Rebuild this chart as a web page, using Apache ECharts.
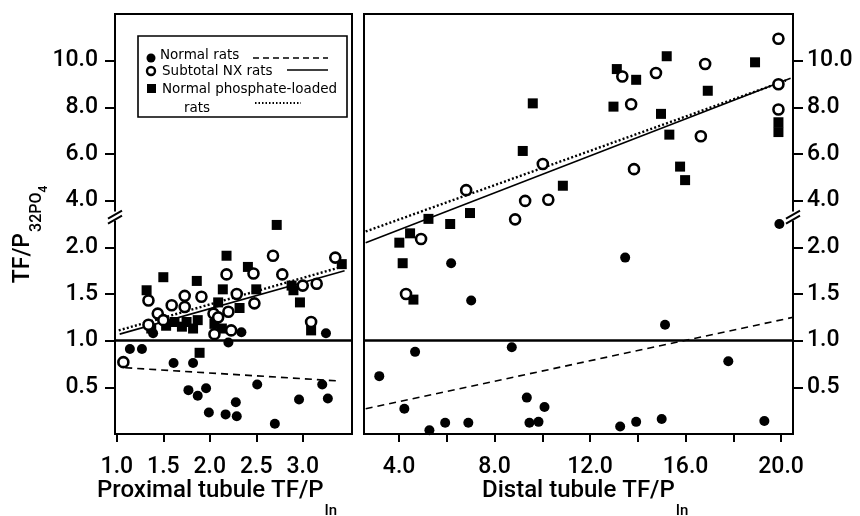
<!DOCTYPE html>
<html><head><meta charset="utf-8">
<script src="https://cdn.jsdelivr.net/npm/echarts@6/dist/echarts.min.js"></script>
<style>html,body{margin:0;padding:0;background:#fff}#c{width:860px;height:516px}</style>
</head><body><div id="c"></div>
<script>
const FONT = 'Roboto';
const WEIGHT = 500;
const LEG_FONT = 'DejaVu Sans';

// ---- Left panel: Proximal tubule TF/P_In ----
const proxNormal = [[1.14,0.91],[1.27,0.91],[1.39,1.08],[1.61,0.76],[1.82,0.76],[1.77,0.47],[1.87,0.41],[1.96,0.49],[1.99,0.23],[2.17,0.21],[2.28,0.34],[2.29,0.19],[2.20,0.98],[2.34,1.09],[2.51,0.53],[2.70,0.11],[2.96,0.37],[3.21,0.53],[3.25,1.08],[3.27,0.38]];
const proxNX = [[1.07,0.77],[1.34,1.43],[1.34,1.17],[1.44,1.29],[1.50,1.22],[1.59,1.38],[1.73,1.48],[1.73,1.36],[1.91,1.47],[2.04,1.29],[2.05,1.07],[2.09,1.25],[2.18,1.71],[2.20,1.31],[2.23,1.11],[2.29,1.50],[2.47,1.72],[2.48,1.40],[2.68,1.91],[2.78,1.71],[3.00,1.59],[3.09,1.20],[3.15,1.61],[3.35,1.89]];
const proxPhos = [[1.32,1.54],[1.37,1.13],[1.50,1.68],[1.53,1.16],[1.62,1.20],[1.70,1.15],[1.75,1.20],[1.82,1.13],[1.86,1.64],[1.87,1.22],[1.89,0.87],[2.05,1.18],[2.09,1.41],[2.13,1.13],[2.14,1.55],[2.18,1.91],[2.32,1.35],[2.41,1.79],[2.50,1.55],[2.72,2.24],[2.88,1.59],[2.90,1.54],[2.97,1.41],[3.09,1.11],[3.42,1.82]];
const proxNormalFit = [[1.09,0.71],[3.36,0.57]];
const proxNXFit = [[1.03,1.07],[3.45,1.75]];
const proxPhosFit = [[1.02,1.11],[3.38,1.78]];

// ---- Right panel: Distal tubule TF/P_In ----
const distNormal = [[3.17,0.62],[4.22,0.27],[4.67,0.88],[5.27,0.04],[5.93,0.12],[6.18,1.83],[6.90,0.12],[7.02,1.43],[8.72,0.93],[9.35,0.39],[9.46,0.12],[9.84,0.13],[10.09,0.29],[13.26,0.08],[13.47,1.89],[13.93,0.13],[15.00,0.16],[15.14,1.17],[17.79,0.78],[19.30,0.14],[19.93,2.25]];
const distNX = [[4.29,1.50],[4.92,2.09],[6.81,4.45],[8.86,3.20],[9.28,3.99],[10.02,5.57],[10.25,4.04],[13.35,9.32],[13.72,8.13],[13.84,5.35],[14.76,9.47],[16.64,6.76],[16.82,9.86],[19.89,10.94],[19.89,8.99],[19.89,7.91]];
const distPhos = [[4.01,2.05],[4.15,1.83],[4.46,2.15],[4.60,1.44],[5.23,3.22],[6.14,2.25],[6.97,3.47],[9.18,6.13],[9.60,8.17],[10.86,4.64],[12.98,8.03],[13.12,9.64],[13.93,9.18],[14.97,7.72],[15.21,10.19],[15.32,6.83],[15.77,5.46],[15.98,4.88],[16.93,8.71],[18.91,9.93],[19.89,7.36],[19.89,6.94]];
const distNormalFit = [[2.6,0.27],[20.5,1.25]];
const distNXFit = [[2.6,2.05],[20.4,9.25]];
const distPhosFit = [[2.6,2.17],[20.2,9.15]];

const referenceY = 1.0;
const yTickValues = [0.5,1.0,1.5,2.0,4.0,6.0,8.0,10.0];
const proxXTicks = [1.0,1.5,2.0,2.5,3.0];
const distXTicks = [4,6,8,10,12,14,16,18,20];
const distXLabels = [4,8,12,16,20];

// broken y axis: lower part linear 0..~2.3, upper part 4..10 compressed (2 units per 0.5)
function disp(v){ return v <= 2.6 ? v : 2.5 + (v - 4) / 4; }
function undisp(d){ return d <= 2.26 ? d : 4 + (d - 2.5) * 4; }
const tr = arr => arr.map(p => [p[0], disp(p[1])]);
const yTickDisp = yTickValues.map(disp);

const chart = echarts.init(document.getElementById('c'), null, {renderer:'canvas'});

const GRID_TOP = 14, GRID_H = 420;
const labelStyle = {fontFamily: FONT, fontSize: 23, fontWeight: WEIGHT, color: '#000'};

function yAxisCfg(idx, pos){
  return {
    type:'value', gridIndex: idx, position: pos, min:0, max:4.5,
    axisLine:{show:true, lineStyle:{color:'#000', width:2}},
    axisTick:{show:true, customValues: yTickDisp, length:10, lineStyle:{color:'#000', width:2}},
    axisLabel:{show:true, customValues: yTickDisp, margin: pos==='left'?17:14, ...labelStyle,
      formatter: d => undisp(d).toFixed(1)},
    splitLine:{show:false}
  };
}
function xAxisCfg(idx, min, max, ticks, labels){
  return {
    type:'value', gridIndex: idx, min, max,
    axisLine:{show:true, onZero:false, lineStyle:{color:'#000', width:2}},
    axisTick:{show:true, customValues: ticks, length:8, lineStyle:{color:'#000', width:2}},
    axisLabel:{show:true, customValues: labels, margin: 22, ...labelStyle, formatter: v => v.toFixed(1)},
    splitLine:{show:false}
  };
}

const filled = {symbol:'circle', symbolSize:10, itemStyle:{color:'#000', opacity:1}};
const open = {symbol:'circle', symbolSize:10, itemStyle:{color:'#fff', borderColor:'#000', borderWidth:2.6, opacity:1}};
const square = {symbol:'rect', symbolSize:10, itemStyle:{color:'#000', opacity:1}};
const solidLine = {color:'#000', width:1.6, type:'solid'};
const dashedLine = {color:'#000', width:1.6, type:[7,5]};
const dottedLine = {color:'#000', width:2.4, type:[2,2.2]};

function panelSeries(i, normal, nx, phos, nFit, xFit, pFit){
  const ax = {xAxisIndex:i, yAxisIndex:i, emphasis:{disabled:true}, silent:true};
  return [
    {type:'line', ...ax, data: tr(nFit), showSymbol:false, symbol:'none', lineStyle: dashedLine, z:2},
    {type:'line', ...ax, data: tr(xFit), showSymbol:false, symbol:'none', lineStyle: solidLine, z:2},
    {type:'line', ...ax, data: tr(pFit), showSymbol:false, symbol:'none', lineStyle: dottedLine, z:2,
      markLine:{silent:true, symbol:['none','none'], label:{show:false},
        lineStyle:{color:'#000', width:2.6, type:'solid'}, data:[{yAxis: disp(referenceY)}]}},
    {type:'scatter', ...ax, data: tr(phos), ...square, z:3},
    {type:'scatter', ...ax, data: tr(normal), ...filled, z:3},
    {type:'scatter', ...ax, data: tr(nx), ...open, z:4}
  ];
}

const option = {
  animation:false,
  backgroundColor:'#fff',
  grid:[
    {left:115, top:GRID_TOP, width:237, height:GRID_H, show:true, borderColor:'#000', borderWidth:2, backgroundColor:'transparent'},
    {left:364, top:GRID_TOP, width:429, height:GRID_H, show:true, borderColor:'#000', borderWidth:2, backgroundColor:'transparent'}
  ],
  xAxis:[
    xAxisCfg(0, 0.98, 3.53, proxXTicks, proxXTicks),
    xAxisCfg(1, 2.53, 20.5, distXTicks, distXLabels)
  ],
  yAxis:[ yAxisCfg(0,'left'), yAxisCfg(1,'right') ],
  series:[
    ...panelSeries(0, proxNormal, proxNX, proxPhos, proxNormalFit, proxNXFit, proxPhosFit),
    ...panelSeries(1, distNormal, distNX, distPhos, distNormalFit, distNXFit, distPhosFit)
  ]
};
chart.setOption(option);

// ---- decorations: titles, legend, axis breaks ----
const mctx = document.createElement('canvas').getContext('2d');
function tw(text, size){ mctx.font = WEIGHT + ' ' + size + 'px "' + FONT + '"'; return mctx.measureText(text).width; }
function txt(text, x, y, size, extra){
  return Object.assign({type:'text', x, y, z:60,
    style:{text, fontFamily:FONT, fontWeight:WEIGHT, fontSize:size, fill:'#000', align:'left', verticalAlign:'middle'}}, extra||{});
}
function xTitle(main, x0, y0){
  const w = tw(main, 24);
  return {type:'group', children:[ txt(main, x0, y0, 24), txt('In', x0 + w + 1, y0 + 20, 15) ]};
}
function yTitle(cx, cy){
  const w1 = tw('TF/P', 23), w2 = tw('32PO', 16), w3 = tw('4', 12);
  const s = -(w1 + w2 + w3) / 2;
  return {type:'group', x:cx, y:cy, rotation:Math.PI/2, children:[
    txt('TF/P', s, 0, 23), txt('32PO', s + w1 + 1, 14, 16), txt('4', s + w1 + w2 + 1, 21, 12)
  ]};
}

const breakD = 2.33;
const pL = chart.convertToPixel({gridIndex:0}, [0.98, breakD]);
const pR = chart.convertToPixel({gridIndex:1}, [20.5, breakD]);
function breakMark(cx, cy){
  return {type:'group', children:[
    {type:'rect', shape:{x:cx-4, y:cy-5, width:8, height:9}, style:{fill:'#fff'}, z:50},
    {type:'line', shape:{x1:cx-7, y1:cy+2, x2:cx+7, y2:cy-6}, style:{stroke:'#000', lineWidth:2}, z:51},
    {type:'line', shape:{x1:cx-7, y1:cy+7, x2:cx+7, y2:cy-1}, style:{stroke:'#000', lineWidth:2}, z:51}
  ]};
}
const legendFont = {fontFamily: LEG_FONT, fontSize: 13.5, fill:'#000'};
const lx = 138, ly = 36;
const graphics = [
  breakMark(pL[0], pL[1]),
  breakMark(pR[0], pR[1]),
  yTitle(23, 235),
  xTitle('Proximal tubule TF/P', 97, 491),
  xTitle('Distal tubule TF/P', 482, 491),
  // legend box
  {type:'rect', shape:{x:lx, y:ly, width:209, height:81}, style:{fill:'#fff', stroke:'#000', lineWidth:1.6}, z:70},
  {type:'circle', shape:{cx:151, cy:58, r:4.5}, style:{fill:'#000'}, z:71},
  {type:'text', x:160, y:55, z:71, style:{text:'Normal rats', ...legendFont, verticalAlign:'middle'}},
  {type:'line', shape:{x1:253, y1:58, x2:328, y2:58}, style:{stroke:'#000', lineWidth:1.5, lineDash:[6,4]}, z:71},
  {type:'circle', shape:{cx:151, cy:71, r:4}, style:{fill:'#fff', stroke:'#000', lineWidth:2.4}, z:71},
  {type:'text', x:162, y:71, z:71, style:{text:'Subtotal NX rats', ...legendFont, verticalAlign:'middle'}},
  {type:'line', shape:{x1:287, y1:70, x2:328, y2:70}, style:{stroke:'#000', lineWidth:1.5}, z:71},
  {type:'rect', shape:{x:147, y:84, width:9, height:9}, style:{fill:'#000'}, z:71},
  {type:'text', x:162, y:89, z:71, style:{text:'Normal phosphate-loaded', ...legendFont, verticalAlign:'middle'}},
  {type:'text', x:184, y:108, z:71, style:{text:'rats', ...legendFont, verticalAlign:'middle'}},
  {type:'line', shape:{x1:255, y1:103, x2:301, y2:103}, style:{stroke:'#000', lineWidth:2, lineDash:[1.5,2]}, z:71}
];
chart.setOption({graphic: graphics});
</script>
</body></html>
